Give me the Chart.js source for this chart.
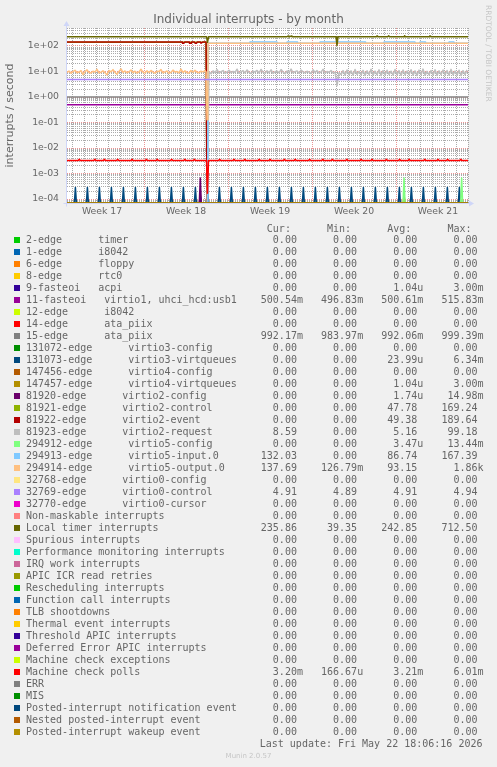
<!DOCTYPE html>
<html lang="en">
<head>
<meta charset="utf-8">
<title>Individual interrupts - by month</title>
<script src="https://cdn.jsdelivr.net/npm/chart.js@4.4.1/dist/chart.umd.min.js"></script>
<style>
  html, body { margin: 0; padding: 0; background: #f0f0f0; }
  #page { position: relative; width: 497px; height: 767px; overflow: hidden; color: #666; font-family: "DejaVu Sans", sans-serif; }
  #chart { position: absolute; left: 0; top: 0; }
  #title { position: absolute; left: 0; top: 12px; width: 497px; text-align: center; font-size: 12px; line-height: 14px; white-space: nowrap; }
  #brand { position: absolute; left: 482.6px; top: 5px; writing-mode: vertical-rl; font-size: 7.5px; line-height: 11px; color: #c6c6c6; white-space: nowrap; }
  #legend { position: absolute; left: 0; top: 0; width: 497px; height: 767px; font-family: "DejaVu Sans Mono", monospace; font-size: 10px; line-height: 12px; }
  #legend .line { position: absolute; left: 26px; white-space: pre; }
  #legend .swatch { position: absolute; left: 14px; width: 6px; height: 6px; }
  #legend .updated { position: absolute; right: 14.5px; white-space: pre; }
  #munin { position: absolute; left: 0; top: 751.5px; width: 497px; text-align: center; font-size: 7px; line-height: 9px; color: #c6c6c6; }
</style>
</head>
<body>
<div id="page">
  <canvas id="chart" width="497" height="222"></canvas>
  <div id="title">Individual interrupts - by month</div>
  <div id="brand">RRDTOOL / TOBI OETIKER</div>
  <div id="legend"></div>
  <div id="munin">Munin 2.0.57</div>
</div>
<script>
// time axis in days, 0 = start of week 18; rrd month archive has one sample per 2 hours
const xMin = -6.42;
const xMax = 27.0;
const sampleStep = 1 / 12;
const yMin = 6.97e-5;
const yMax = 508;

const weekLabels = ["Week 17", "Week 18", "Week 19", "Week 20", "Week 21"];
const weekStarts = [-7, 0, 7, 14, 21];
const yTickValues = [1e-4, 1e-3, 1e-2, 1e-1, 1, 10, 100];
const yTickLabels = ["1e-04", "1e-03", "1e-02", "1e-01", "1e+00", "1e+01", "1e+02"];

const seriesNames = [
  "2-edge      timer",
  "1-edge      i8042",
  "6-edge      floppy",
  "8-edge      rtc0",
  "9-fasteoi   acpi",
  "11-fasteoi   virtio1, uhci_hcd:usb1",
  "12-edge      i8042",
  "14-edge      ata_piix",
  "15-edge      ata_piix",
  "131072-edge      virtio3-config",
  "131073-edge      virtio3-virtqueues",
  "147456-edge      virtio4-config",
  "147457-edge      virtio4-virtqueues",
  "81920-edge      virtio2-config",
  "81921-edge      virtio2-control",
  "81922-edge      virtio2-event",
  "81923-edge      virtio2-request",
  "294912-edge      virtio5-config",
  "294913-edge      virtio5-input.0",
  "294914-edge      virtio5-output.0",
  "32768-edge      virtio0-config",
  "32769-edge      virtio0-control",
  "32770-edge      virtio0-cursor",
  "Non-maskable interrupts",
  "Local timer interrupts",
  "Spurious interrupts",
  "Performance monitoring interrupts",
  "IRQ work interrupts",
  "APIC ICR read retries",
  "Rescheduling interrupts",
  "Function call interrupts",
  "TLB shootdowns",
  "Thermal event interrupts",
  "Threshold APIC interrupts",
  "Deferred Error APIC interrupts",
  "Machine check exceptions",
  "Machine check polls",
  "ERR",
  "MIS",
  "Posted-interrupt notification event",
  "Nested posted-interrupt event",
  "Posted-interrupt wakeup event"
];

const seriesColors = [
  "#00cc00", "#0066b3", "#ff8000", "#ffcc00", "#330099", "#990099", "#ccff00",
  "#ff0000", "#808080", "#008f00", "#00487d", "#b35a00", "#b38f00", "#6b006b",
  "#8fb300", "#b30000", "#bebebe", "#80ff80", "#80c9ff", "#ffc080", "#ffe680",
  "#aa80ff", "#ee00cc", "#ff8080", "#666600", "#ffbfff", "#00ffcc", "#cc6699",
  "#999900", "#00cc00", "#0066b3", "#ff8000", "#ffcc00", "#330099", "#990099",
  "#ccff00", "#ff0000", "#808080", "#008f00", "#00487d", "#b35a00", "#b38f00"
];

const curValues = [
  "0.00", "0.00", "0.00", "0.00", "0.00", "500.54m", "0.00", "0.00", "992.17m",
  "0.00", "0.00", "0.00", "0.00", "0.00", "0.00", "0.00", "8.59", "0.00",
  "132.03", "137.69", "0.00", "4.91", "0.00", "0.00", "235.86", "0.00", "0.00",
  "0.00", "0.00", "0.00", "0.00", "0.00", "0.00", "0.00", "0.00", "0.00",
  "3.20m", "0.00", "0.00", "0.00", "0.00", "0.00"
];
const minValues = [
  "0.00", "0.00", "0.00", "0.00", "0.00", "496.83m", "0.00", "0.00", "983.97m",
  "0.00", "0.00", "0.00", "0.00", "0.00", "0.00", "0.00", "0.00", "0.00",
  "0.00", "126.79m", "0.00", "4.89", "0.00", "0.00", "39.35", "0.00", "0.00",
  "0.00", "0.00", "0.00", "0.00", "0.00", "0.00", "0.00", "0.00", "0.00",
  "166.67u", "0.00", "0.00", "0.00", "0.00", "0.00"
];
const avgValues = [
  "0.00", "0.00", "0.00", "0.00", "1.04u", "500.61m", "0.00", "0.00", "992.06m",
  "0.00", "23.99u", "0.00", "1.04u", "1.74u", "47.78", "49.38", "5.16", "3.47u",
  "86.74", "93.15", "0.00", "4.91", "0.00", "0.00", "242.85", "0.00", "0.00",
  "0.00", "0.00", "0.00", "0.00", "0.00", "0.00", "0.00", "0.00", "0.00",
  "3.21m", "0.00", "0.00", "0.00", "0.00", "0.00"
];
const maxValues = [
  "0.00", "0.00", "0.00", "0.00", "3.00m", "515.83m", "0.00", "0.00", "999.39m",
  "0.00", "6.34m", "0.00", "3.00m", "14.98m", "169.24", "189.64", "99.18", "13.44m",
  "167.39", "1.86k", "0.00", "4.94", "0.00", "0.00", "712.50", "0.00", "0.00",
  "0.00", "0.00", "0.00", "0.00", "0.00", "0.00", "0.00", "0.00", "0.00",
  "6.01m", "0.00", "0.00", "0.00", "0.00", "0.00"
];

// flat series
const virtio1Line = [[xMin, 0.494], [xMax, 0.494]];
const ataPiix15Line = [[xMin, 0.992], [xMax, 0.992]];
const virtio0ControlLine = [[xMin, 4.91], [xMax, 4.91]];

// local timer, reboot at day 5.29
const localTimer = [
  [-6.42, 232], [5.21, 232], [5.29, 140], [5.38, 232], [11.92, 232], [12.0, 245],
  [12.08, 226], [12.25, 245], [12.33, 232], [16.0, 232], [16.08, 105], [16.17, 232],
  [19.38, 232], [19.42, 250], [19.5, 232], [20.33, 232], [20.38, 250], [20.46, 232],
  [21.67, 232], [21.71, 250], [21.79, 232], [23.79, 232], [23.83, 250], [23.92, 232],
  [27.0, 232]
];

const virtio2Event = [
  [-6.42, 143], [3.17, 143], [3.21, 128], [3.33, 128], [3.38, 143], [3.75, 143],
  [3.79, 128], [3.92, 128], [3.96, 143], [4.21, 143], [4.25, 128], [4.38, 128],
  [4.42, 143], [4.71, 143], [4.75, 128], [4.83, 128], [4.88, 143], [5.17, 143],
  [5.25, 0], [27.0, 0]
];
const virtio2Control = [[-6.42, 139], [5.17, 139], [5.25, 0], [27.0, 0]];

// virtio2-request after reboot, every 4 hours from day 5.42
const requestStart = 5.42;
const requestStep = 1 / 6;
const virtio2RequestAfter = [
  9.8, 8.2, 10.6, 9.1, 11.8, 8.6, 9.9, 10.9, 8.4, 9.6,
  11.2, 8.9, 10.1, 9.3, 12.3, 8.5, 9.7, 10.8, 8.8, 11.5,
  9.2, 8.3, 10.4, 9.6, 11.0, 8.7, 12.0, 9.4, 8.6, 10.7,
  9.0, 11.6, 8.4, 9.8, 10.3, 8.9, 11.9, 9.5, 8.2, 10.5,
  9.1, 12.5, 8.8, 9.9, 10.6, 8.5, 11.3, 9.7, 8.9, 10.2,
  9.4, 8.3, 11.7, 9.2, 10.8, 8.7, 9.6, 12.1, 8.6, 10.0,
  9.3, 10.9, 8.8, 9.5, 2.8, 9.0, 7.6, 10.8, 7.2, 11.4,
  7.4, 10.6, 7.1, 11.9, 7.6, 10.2, 7.3, 11.1, 7.0, 10.7,
  7.5, 12.2, 7.2, 10.4, 7.4, 11.6, 6.9, 10.9, 7.3, 11.2,
  7.6, 10.3, 7.1, 12.0, 7.4, 10.8, 7.0, 11.5, 7.3, 10.5,
  7.7, 11.8, 7.2, 10.6, 6.9, 11.3, 7.5, 12.4, 7.1, 10.1,
  7.4, 11.0, 7.2, 11.7, 7.0, 10.7, 7.6, 11.4, 7.3, 10.9,
  7.1, 12.1, 7.4, 10.4, 7.2, 11.2, 6.9, 10.8, 7.5, 11.6
];

// virtio5-output.0 before reboot, every 4 hours from day -6.42
const outputStart = -6.42;
const outputStep = 1 / 6;
const virtio5OutputBefore = [
  9.2, 10.4, 8.6, 9.8, 11.2, 8.9, 9.5, 10.8, 7.6, 9.9,
  11.6, 9.1, 8.7, 10.2, 9.6, 12.1, 8.8, 9.4, 10.6, 9.0,
  7.4, 10.9, 9.7, 11.8, 9.3, 7.8, 10.1, 12.6, 9.2, 10.5,
  8.9, 9.8, 11.4, 9.0, 10.3, 8.7, 9.6, 12.2, 9.4, 8.8,
  10.7, 9.1, 11.0, 9.5, 8.6, 10.2, 9.9, 11.9, 8.9, 9.7,
  10.4, 8.5, 9.3, 11.3, 9.6, 10.0, 8.8, 12.4, 9.2, 10.6,
  9.0, 8.7, 10.9, 9.5, 11.1, 9.3, 8.9, 10.3, 9.7, 10.8
];
const virtio5OutputAfter = [[5.17, 9.6], [5.25, 0.127], [5.33, 128], [27.0, 128]];

const virtio5Input = [
  [-6.42, 0], [5.25, 0], [5.33, 128], [8.79, 128], [8.83, 142], [11.08, 142],
  [11.12, 128], [11.88, 128], [11.92, 142], [12.75, 142], [12.79, 128], [14.63, 128],
  [14.67, 142], [18.42, 142], [18.46, 128], [19.96, 128], [20.0, 142], [22.58, 142],
  [22.62, 128], [22.96, 128], [23.0, 142], [23.42, 142], [23.46, 128], [25.38, 128],
  [25.42, 142], [25.83, 142], [25.87, 128], [27.0, 128]
];

// short bursts: day of the 2h sample and its value
const virtio3Days = [
  -5.72, -4.72, -3.72, -2.72, -1.72, -0.72, 0.28, 1.28, 2.28, 3.28, 4.28,
  5.28, 6.28, 7.28, 8.28, 9.28, 10.28, 11.28, 12.28, 13.28, 14.28, 15.28,
  16.28, 17.28, 18.28, 19.28, 20.28, 21.28, 22.28, 23.28, 24.28, 25.28, 26.28
];
const virtio3Peaks = [
  2.8e-4, 2.8e-4, 2.8e-4, 2.8e-4, 2.8e-4, 2.8e-4, 2.8e-4, 2.8e-4, 2.8e-4, 2.8e-4, 2.8e-4,
  2.8e-4, 2.8e-4, 2.8e-4, 2.8e-4, 2.8e-4, 2.8e-4, 2.8e-4, 2.8e-4, 2.8e-4, 2.8e-4, 2.8e-4,
  2.8e-4, 2.8e-4, 2.8e-4, 2.8e-4, 2.8e-4, 2.8e-4, 2.8e-4, 2.8e-4, 2.8e-4, 2.8e-4, 2.8e-4
];
const acpiDays = [4.69];
const acpiPeaks = [1.4e-4];
const virtio4QueueDays = [21.67];
const virtio4QueuePeaks = [1.4e-4];
const virtio2ConfigDays = [4.69];
const virtio2ConfigPeaks = [6.6e-4];
const virtio5ConfigDays = [21.67, 26.47];
const virtio5ConfigPeaks = [6.6e-4, 6.6e-4];

const mcPollBase = 3.24e-3;
const mcPollDays = [
  -5.4, -4.1, -3.3, -2.2, -1.0, 0.2, 1.1, 2.3, 3.4, 4.2, 5.29, 6.3, 7.5, 8.4, 9.6, 10.5,
  11.7, 12.6, 13.8, 14.9, 15.7, 16.9, 18.1, 19.0, 20.2, 21.3, 22.1, 23.4, 24.5, 25.3, 26.4
];
const mcPollPeaks = [
  3.6e-3, 3.6e-3, 3.6e-3, 3.6e-3, 3.6e-3, 3.6e-3, 3.6e-3, 3.6e-3, 3.6e-3, 3.6e-3, 1.67e-4,
  3.6e-3, 3.6e-3, 3.6e-3, 3.6e-3, 3.6e-3, 3.6e-3, 3.6e-3, 3.6e-3, 3.6e-3, 3.6e-3, 3.6e-3,
  3.6e-3, 3.6e-3, 3.6e-3, 3.6e-3, 3.6e-3, 3.6e-3, 3.6e-3, 3.6e-3, 3.6e-3
];

// a flat level with single-sample bursts, neighbours back at the level
function pulses(base, days, peaks) {
  const pts = [[xMin, base]];
  days.forEach((d, i) => {
    pts.push([d - sampleStep, base], [d, peaks[i]], [d + sampleStep, base]);
  });
  pts.push([xMax, base]);
  return pts;
}

const seriesPoints = seriesNames.map(() => [[xMin, 0], [xMax, 0]]);
seriesPoints[4] = pulses(0, acpiDays, acpiPeaks);
seriesPoints[5] = virtio1Line;
seriesPoints[8] = ataPiix15Line;
seriesPoints[10] = pulses(0, virtio3Days, virtio3Peaks);
seriesPoints[12] = pulses(0, virtio4QueueDays, virtio4QueuePeaks);
seriesPoints[13] = pulses(0, virtio2ConfigDays, virtio2ConfigPeaks);
seriesPoints[14] = virtio2Control;
seriesPoints[15] = virtio2Event;
seriesPoints[16] = [[xMin, 0], [5.25, 0]].concat(
  virtio2RequestAfter.map((v, i) => [requestStart + i * requestStep, v]));
seriesPoints[17] = pulses(0, virtio5ConfigDays, virtio5ConfigPeaks);
seriesPoints[18] = virtio5Input;
seriesPoints[19] = virtio5OutputBefore.map((v, i) => [outputStart + i * outputStep, v])
  .concat(virtio5OutputAfter);
seriesPoints[21] = virtio0ControlLine;
seriesPoints[24] = localTimer;
seriesPoints[36] = pulses(mcPollBase, mcPollDays, mcPollPeaks);

// zero has no place on a log axis: rrdtool pins it to the bottom edge
const datasets = seriesNames.map((name, i) => ({
  label: name,
  data: seriesPoints[i].map(([x, y]) => ({ x: x, y: y > 0 ? y : yMin })),
  borderColor: seriesColors[i],
  borderWidth: 1.5,
  borderJoinStyle: "round",
  pointRadius: 0,
  tension: 0,
  clip: 0,
  order: seriesNames.length - i
}));

const minorGrid = "rgba(143, 143, 143, 0.75)";
const majorGrid = "rgba(222, 79, 79, 0.6)";
const tickFont = { family: "DejaVu Sans", size: 9.3 };

function dayTicks(scale) {
  const ticks = [];
  for (let d = Math.ceil(xMin); d <= xMax; d++) {
    ticks.push({ value: d, kind: d % 7 === 0 ? "major" : "minor", lbl: "" });
  }
  weekStarts.forEach((s, i) => {
    if (s + 3.5 > xMin && s + 3.5 < xMax) {
      ticks.push({ value: s + 3.5, kind: "label", lbl: weekLabels[i] });
    }
  });
  ticks.sort((a, b) => a.value - b.value);
  scale.ticks = ticks;
}

function decadeTicks(scale) {
  const ticks = [];
  for (let e = -5; e <= 2; e++) {
    for (let m = 1; m <= 9; m++) {
      const v = parseFloat(m + "e" + e);
      if (v < yMin || v > yMax) continue;
      const k = yTickValues.indexOf(v);
      ticks.push({ value: v, kind: m === 1 ? "major" : "minor", lbl: k >= 0 ? yTickLabels[k] : "" });
    }
  }
  scale.ticks = ticks;
}

function gridColor(ctx) {
  if (!ctx.tick) return "transparent";
  if (ctx.tick.kind === "major") return majorGrid;
  if (ctx.tick.kind === "minor") return minorGrid;
  return "transparent";
}

const plotFrame = {
  id: "plotFrame",
  beforeDraw(chart) {
    const { ctx, chartArea: a } = chart;
    ctx.save();
    ctx.fillStyle = "#ffffff";
    ctx.fillRect(a.left, a.top, a.right - a.left, a.bottom - a.top);
    ctx.restore();
  },
  beforeDatasetsDraw(chart) {
    const { ctx, chartArea: a } = chart;
    const x0 = a.left - 0.5;
    const y0 = a.bottom + 0.5;
    ctx.save();
    ctx.strokeStyle = "#cfd6f8";
    ctx.fillStyle = "#cfd6f8";
    ctx.lineWidth = 1;
    ctx.beginPath();
    ctx.moveTo(x0, y0 + 3);
    ctx.lineTo(x0, a.top - 3);
    ctx.moveTo(x0 - 3, y0);
    ctx.lineTo(a.right + 3, y0);
    ctx.stroke();
    ctx.beginPath();
    ctx.moveTo(x0 - 3, a.top - 2);
    ctx.lineTo(x0 + 3, a.top - 2);
    ctx.lineTo(x0, a.top - 7);
    ctx.closePath();
    ctx.fill();
    ctx.beginPath();
    ctx.moveTo(a.right + 1, y0 - 3);
    ctx.lineTo(a.right + 1, y0 + 3);
    ctx.lineTo(a.right + 6, y0);
    ctx.closePath();
    ctx.fill();
    ctx.restore();
  }
};

Chart.defaults.font.family = "DejaVu Sans";
Chart.defaults.color = "#666";

new Chart(document.getElementById("chart"), {
  type: "line",
  data: { datasets: datasets },
  options: {
    responsive: false,
    animation: false,
    devicePixelRatio: 1,
    layout: { padding: { top: 28, right: 29, left: 0, bottom: 0 } },
    plugins: {
      legend: { display: false },
      tooltip: { enabled: false }
    },
    scales: {
      x: {
        type: "linear",
        min: xMin,
        max: xMax,
        bounds: "data",
        afterBuildTicks: dayTicks,
        afterFit: (s) => { s.height = 19; },
        grid: { color: gridColor, drawTicks: false, lineWidth: 1 },
        border: { display: false, dash: [1, 1] },
        ticks: {
          autoSkip: false, maxRotation: 0, minRotation: 0, padding: 3.5,
          color: "#666", font: tickFont,
          callback: (v, i, t) => t[i].lbl
        }
      },
      y: {
        type: "logarithmic",
        min: yMin,
        max: yMax,
        bounds: "data",
        afterBuildTicks: decadeTicks,
        afterFit: (s) => { s.width = 67; },
        title: {
          display: true, text: "interrupts / second", color: "#666",
          font: { family: "DejaVu Sans", size: 11 }, padding: { top: 4, bottom: 0 }
        },
        grid: { color: gridColor, drawTicks: false, lineWidth: 1 },
        border: { display: false, dash: [1, 1] },
        ticks: {
          autoSkip: false, padding: 8, color: "#666", font: tickFont,
          callback: (v, i, t) => t[i].lbl
        }
      }
    }
  },
  plugins: [plotFrame]
});

// legend table under the graph
const legendBox = document.getElementById("legend");
const headerTop = 222.5;
const rowTop = 233.5;
const rowGap = 12;

function addLine(text, top) {
  const el = document.createElement("div");
  el.className = "line";
  el.style.top = top + "px";
  el.textContent = text;
  legendBox.appendChild(el);
}

function column(v) {
  return (/[a-z]$/i.test(v) ? v : v + " ").padStart(10);
}

addLine("".padEnd(36) + ["Cur:", "Min:", "Avg:", "Max:"].map((h) => h.padStart(8) + "  ").join(""), headerTop);

seriesNames.forEach((name, i) => {
  const top = rowTop + i * rowGap;
  const sw = document.createElement("div");
  sw.className = "swatch";
  sw.style.top = (top + 3) + "px";
  sw.style.background = seriesColors[i];
  legendBox.appendChild(sw);
  addLine(name.padEnd(36) + column(curValues[i]) + column(minValues[i]) +
    column(avgValues[i]) + column(maxValues[i]), top);
});

const updated = document.createElement("div");
updated.className = "updated";
updated.style.top = (rowTop + seriesNames.length * rowGap) + "px";
updated.textContent = "Last update: Fri May 22 18:06:16 2026";
legendBox.appendChild(updated);
</script>
</body>
</html>
